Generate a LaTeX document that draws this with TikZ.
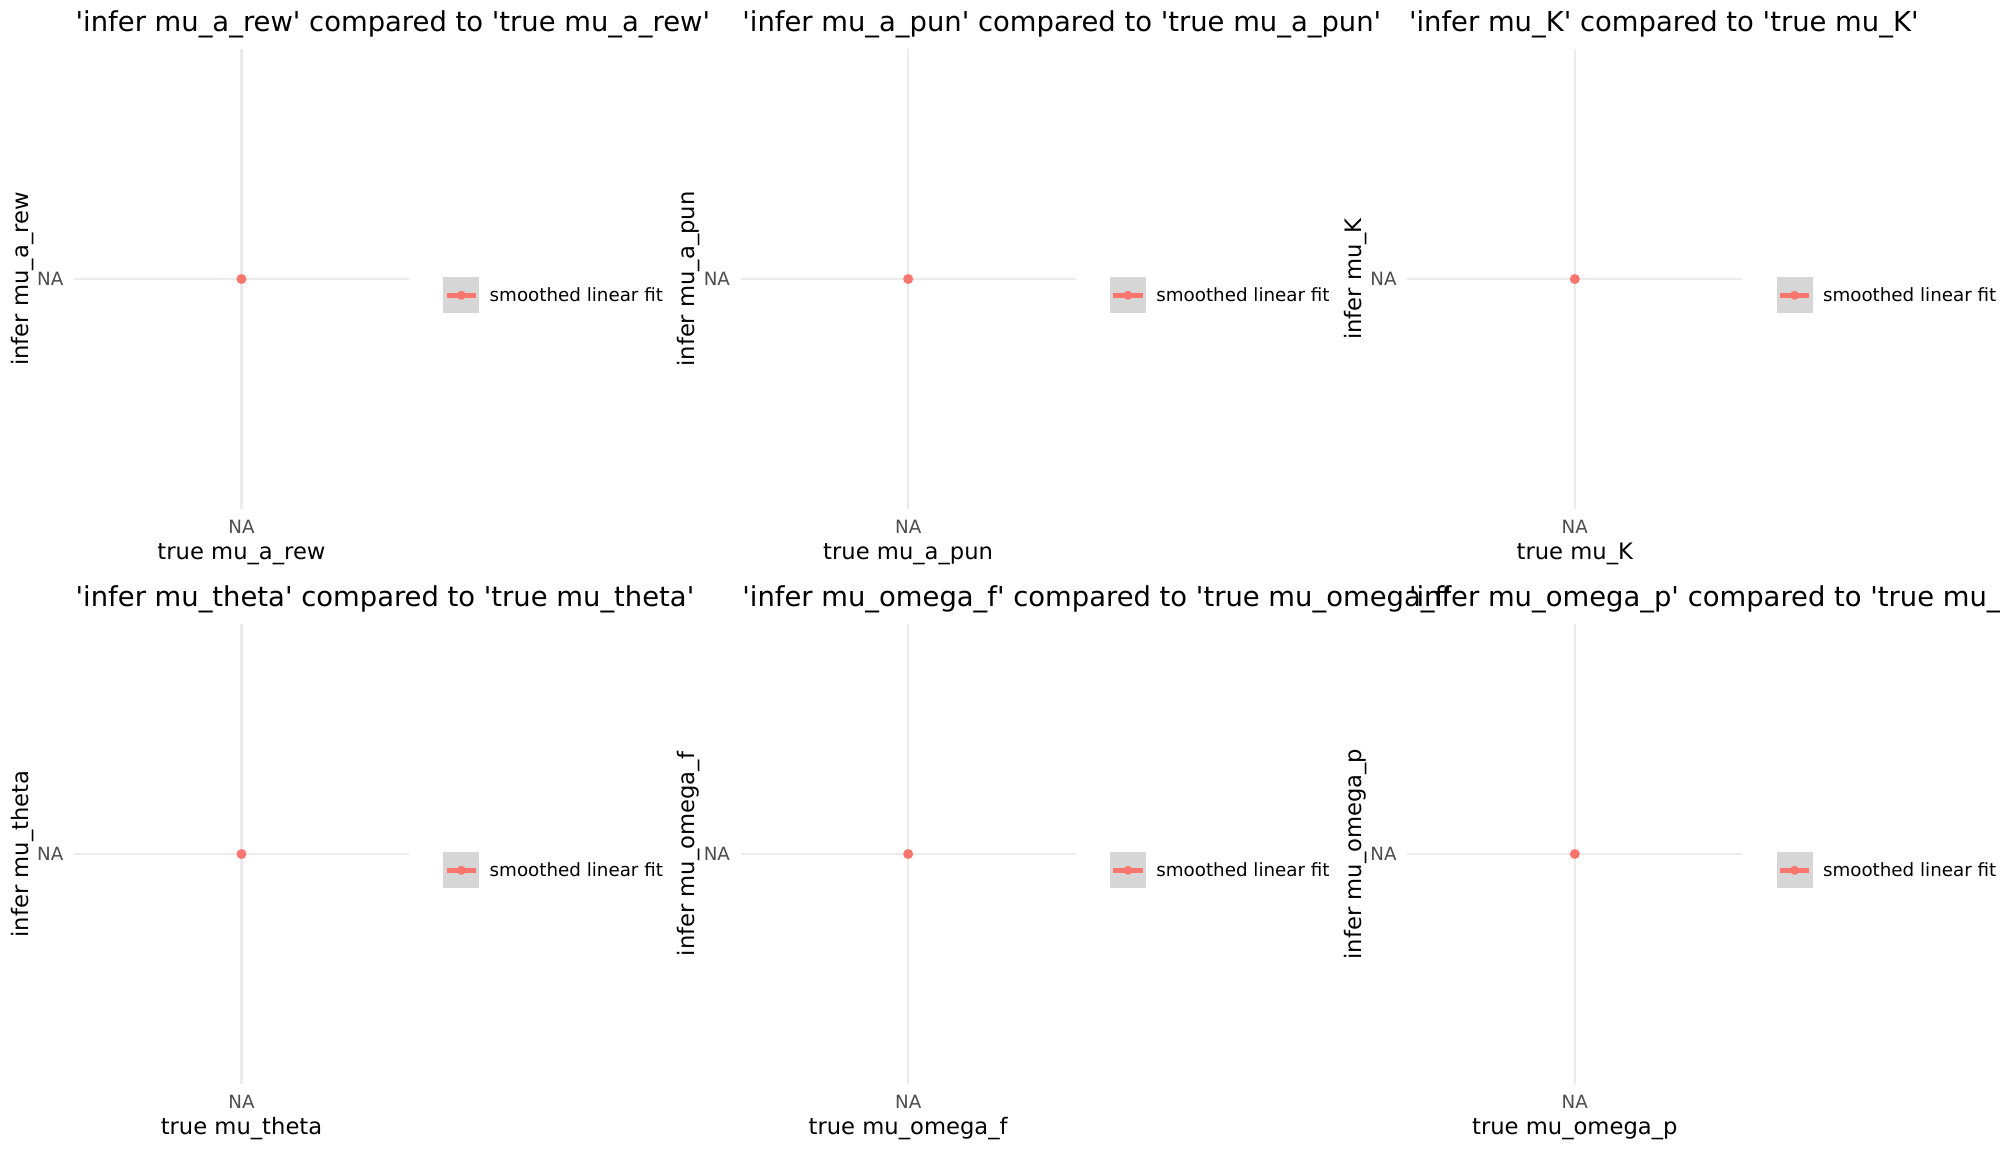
\documentclass[tikz,border=0pt]{standalone}
\usepackage{fontspec}
\newfontfamily\plotfont{DejaVu Sans}
\definecolor{fitred}{HTML}{F8766D}
\definecolor{gridgrey}{HTML}{EBEBEB}
\definecolor{tickgrey}{HTML}{4D4D4D}
\definecolor{keygrey}{HTML}{D6D6D6}
\tikzstyle{plottitle}=[font=\plotfont\fontsize{7.8}{9}\selectfont, anchor=base west, inner sep=0]
\tikzstyle{axtitle}=[font=\plotfont\fontsize{6.45}{8}\selectfont, anchor=base, inner sep=0]
\tikzstyle{ticklab}=[font=\plotfont\fontsize{5.2}{6}\selectfont, text=tickgrey, inner sep=0]
\tikzstyle{keylab}=[font=\plotfont\fontsize{5.2}{6}\selectfont, anchor=base west, inner sep=0]
\tikzstyle{legkey}=[fill=keygrey, minimum size=3.6mm, inner sep=0]
\tikzstyle{gridline}=[gridgrey, line width=0.22mm]
\tikzstyle{fitline}=[fitred, line width=0.5mm]

\begin{document}
\begin{tikzpicture}[x=0.1mm, y=-0.1mm]
\useasboundingbox (0,0) rectangle (2000,1150);
\fill[white] (0,0) rectangle (2000,1150);
\clip (0,0) rectangle (2000,1150);
% mu_a_rew
\begin{scope}
    \draw[gridline] (241.5,49) -- (241.5,509);
    \draw[gridline] (74,279) -- (409,279);
    \fill[fitred] (241.5,279) circle(5);
    \node[plottitle] (t1) at (75,31) {'infer mu\_a\_rew' compared to 'true mu\_a\_rew'};
    \node[ticklab, anchor=base east] (ny1) at (64,285.6) {NA};
    \node[ticklab, anchor=base] (nx1) at (241.5,533.3) {NA};
    \node[axtitle] (xl1) at (241.5,559.3) {true mu\_a\_rew};
    \node[axtitle, rotate=90] (yl1) at (28.3,279) {infer mu\_a\_rew};
    \node[legkey] (k1) at (461.3,295.3) {};
    \draw[fitline] ([xshift=0.4mm]k1.west) -- ([xshift=-0.4mm]k1.east);
    \fill[fitred] (k1) circle(4.5);
    \node[keylab] (kl1) at (489,301.7) {smoothed linear fit};
\end{scope}
% mu_a_pun
\begin{scope}[shift={(666.67,0)}]
    \draw[gridline] (241.5,49) -- (241.5,509);
    \draw[gridline] (74,279) -- (409,279);
    \fill[fitred] (241.5,279) circle(5);
    \node[plottitle] (t2) at (75,31) {'infer mu\_a\_pun' compared to 'true mu\_a\_pun'};
    \node[ticklab, anchor=base east] (ny2) at (64,285.6) {NA};
    \node[ticklab, anchor=base] (nx2) at (241.5,533.3) {NA};
    \node[axtitle] (xl2) at (241.5,559.3) {true mu\_a\_pun};
    \node[axtitle, rotate=90] (yl2) at (28.3,279) {infer mu\_a\_pun};
    \node[legkey] (k2) at (461.3,295.3) {};
    \draw[fitline] ([xshift=0.4mm]k2.west) -- ([xshift=-0.4mm]k2.east);
    \fill[fitred] (k2) circle(4.5);
    \node[keylab] (kl2) at (489,301.7) {smoothed linear fit};
\end{scope}
% mu_K
\begin{scope}[shift={(1333.33,0)}]
    \draw[gridline] (241.5,49) -- (241.5,509);
    \draw[gridline] (74,279) -- (409,279);
    \fill[fitred] (241.5,279) circle(5);
    \node[plottitle] (t3) at (75,31) {'infer mu\_K' compared to 'true mu\_K'};
    \node[ticklab, anchor=base east] (ny3) at (64,285.6) {NA};
    \node[ticklab, anchor=base] (nx3) at (241.5,533.3) {NA};
    \node[axtitle] (xl3) at (241.5,559.3) {true mu\_K};
    \node[axtitle, rotate=90] (yl3) at (28.3,279) {infer mu\_K};
    \node[legkey] (k3) at (461.3,295.3) {};
    \draw[fitline] ([xshift=0.4mm]k3.west) -- ([xshift=-0.4mm]k3.east);
    \fill[fitred] (k3) circle(4.5);
    \node[keylab] (kl3) at (489,301.7) {smoothed linear fit};
\end{scope}
% mu_theta
\begin{scope}[shift={(0,575)}]
    \draw[gridline] (241.5,49) -- (241.5,509);
    \draw[gridline] (74,279) -- (409,279);
    \fill[fitred] (241.5,279) circle(5);
    \node[plottitle] (t4) at (75,31) {'infer mu\_theta' compared to 'true mu\_theta'};
    \node[ticklab, anchor=base east] (ny4) at (64,285.6) {NA};
    \node[ticklab, anchor=base] (nx4) at (241.5,533.3) {NA};
    \node[axtitle] (xl4) at (241.5,559.3) {true mu\_theta};
    \node[axtitle, rotate=90] (yl4) at (28.3,279) {infer mu\_theta};
    \node[legkey] (k4) at (461.3,295.3) {};
    \draw[fitline] ([xshift=0.4mm]k4.west) -- ([xshift=-0.4mm]k4.east);
    \fill[fitred] (k4) circle(4.5);
    \node[keylab] (kl4) at (489,301.7) {smoothed linear fit};
\end{scope}
% mu_omega_f
\begin{scope}[shift={(666.67,575)}]
    \draw[gridline] (241.5,49) -- (241.5,509);
    \draw[gridline] (74,279) -- (409,279);
    \fill[fitred] (241.5,279) circle(5);
    \node[plottitle] (t5) at (75,31) {'infer mu\_omega\_f' compared to 'true mu\_omega\_f'};
    \node[ticklab, anchor=base east] (ny5) at (64,285.6) {NA};
    \node[ticklab, anchor=base] (nx5) at (241.5,533.3) {NA};
    \node[axtitle] (xl5) at (241.5,559.3) {true mu\_omega\_f};
    \node[axtitle, rotate=90] (yl5) at (28.3,279) {infer mu\_omega\_f};
    \node[legkey] (k5) at (461.3,295.3) {};
    \draw[fitline] ([xshift=0.4mm]k5.west) -- ([xshift=-0.4mm]k5.east);
    \fill[fitred] (k5) circle(4.5);
    \node[keylab] (kl5) at (489,301.7) {smoothed linear fit};
\end{scope}
% mu_omega_p
\begin{scope}[shift={(1333.33,575)}]
    \draw[gridline] (241.5,49) -- (241.5,509);
    \draw[gridline] (74,279) -- (409,279);
    \fill[fitred] (241.5,279) circle(5);
    \node[plottitle] (t6) at (75,31) {'infer mu\_omega\_p' compared to 'true mu\_omega\_p'};
    \node[ticklab, anchor=base east] (ny6) at (64,285.6) {NA};
    \node[ticklab, anchor=base] (nx6) at (241.5,533.3) {NA};
    \node[axtitle] (xl6) at (241.5,559.3) {true mu\_omega\_p};
    \node[axtitle, rotate=90] (yl6) at (28.3,279) {infer mu\_omega\_p};
    \node[legkey] (k6) at (461.3,295.3) {};
    \draw[fitline] ([xshift=0.4mm]k6.west) -- ([xshift=-0.4mm]k6.east);
    \fill[fitred] (k6) circle(4.5);
    \node[keylab] (kl6) at (489,301.7) {smoothed linear fit};
\end{scope}
\end{tikzpicture}
\end{document}
